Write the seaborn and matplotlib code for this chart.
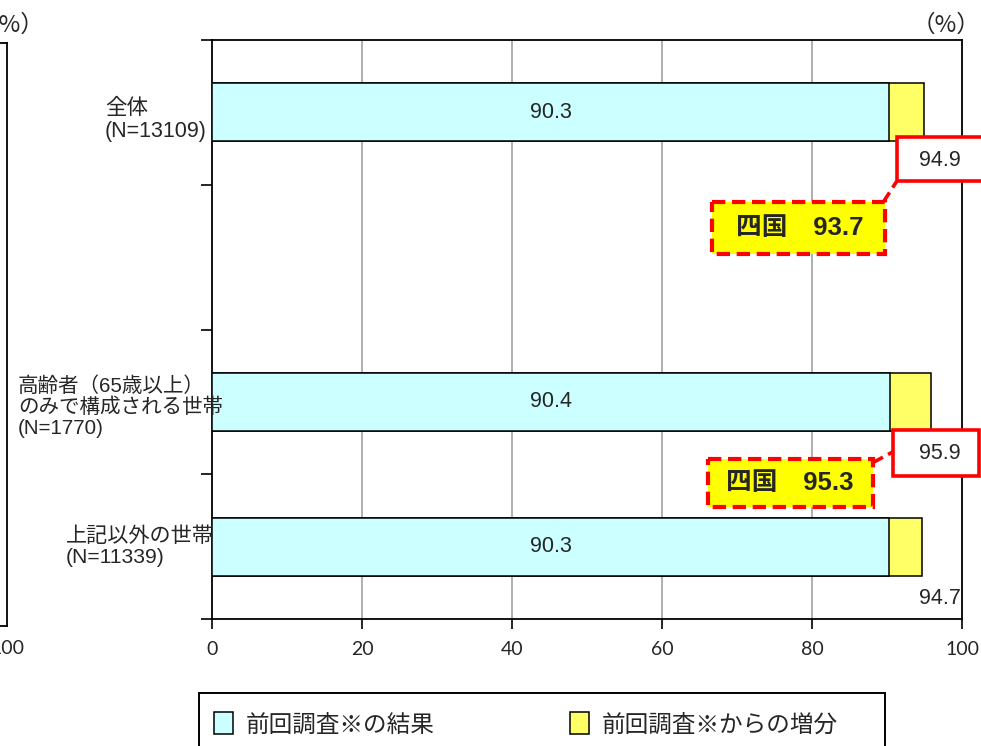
import matplotlib
matplotlib.use("Agg")
import matplotlib.pyplot as plt
import pandas as pd
import seaborn as sns
from matplotlib.patches import Rectangle, Patch

# ---- data -------------------------------------------------------------
groups = [
    "全体\n(N=13109)",
    "高齢者（65歳以上）\nのみで構成される世帯\n(N=1770)",
    "上記以外の世帯\n(N=11339)",
]
previous = [90.3, 90.4, 90.3]          # 前回調査の結果
current = [94.9, 95.9, 94.7]           # 今回の結果（前回＋増分）
region_name = "四国"
region_values = [93.7, 95.3]           # 四国の値（全体・高齢者世帯）
x_ticks = [0, 20, 40, 60, 80, 100]
legend_labels = ["前回調査※の結果", "前回調査※からの増分"]
unit_label = "（%）"

CYAN = "#CCFFFF"
YELLOW = "#FFFF66"
CALLOUT_FILL = "#FFFF00"
RED = "#FF0000"

sns.set_style("ticks")
plt.rcParams["font.family"] = ["Liberation Sans", "Noto Sans CJK JP", "DejaVu Sans"]

W, H = 981, 746
fig = plt.figure(figsize=(W / 100, H / 100), dpi=100)

def fx(px):
    return px / W

def fy(py):
    return 1 - py / H

# ---- neighbouring panel (only its right edge falls inside the figure) --
ax0 = fig.add_axes([fx(-600), fy(626), fx(607), fy(43) - fy(626)])
ax0.set_xlim(0, 100)
ax0.set_ylim(0, 1)
ax0.set_yticks([])
ax0.set_xticks([100])
ax0.set_xticklabels(["100"], family=["Lato", "DejaVu Sans"], fontsize=14)
ax0.tick_params(axis="x", length=0, pad=10)
for s in ax0.spines.values():
    s.set_linewidth(1.3)
    s.set_color("black")
fig.text(fx(44), fy(25), unit_label, ha="right", va="center", fontsize=17,
         family=["Noto Sans CJK JP", "DejaVu Sans"])

# ---- main panel -------------------------------------------------------
ax = fig.add_axes([fx(212), fy(619), fx(962) - fx(212), fy(40) - fy(619)])

df = pd.DataFrame({"group": groups, "previous": previous, "current": current})
order = [groups[0], " ", groups[1], groups[2]]

sns.barplot(data=df, x="current", y="group", order=order, orient="h",
            color=YELLOW, saturation=1, edgecolor="black", linewidth=1.1,
            width=0.4, errorbar=None, ax=ax, zorder=3)
sns.barplot(data=df, x="previous", y="group", order=order, orient="h",
            color=CYAN, saturation=1, edgecolor="black", linewidth=1.1,
            width=0.4, errorbar=None, ax=ax, zorder=3)

ax.set_xlim(0, 100)
ax.set_ylim(3.5, -0.5)
ax.set_xticks(x_ticks)
ax.set_xticklabels([str(v) for v in x_ticks], family=["Lato", "DejaVu Sans"],
                   fontsize=14)
ax.set_yticks([-0.5, 0.5, 1.5, 2.5, 3.5])
ax.set_yticklabels([])
ax.set_xlabel("")
ax.set_ylabel("")
ax.tick_params(axis="x", direction="out", length=7, width=1.2, pad=9,
               color="black")
ax.tick_params(axis="y", direction="out", length=8, width=1.2, color="black")
for s in ax.spines.values():
    s.set_visible(True)
    s.set_linewidth(1.3)
    s.set_color("black")
ax.set_axisbelow(True)
for v in x_ticks[1:-1]:
    ax.axvline(v, color="#9A9A9A", lw=1.1, zorder=1)

# value of previous survey inside the cyan segment
ax.bar_label(ax.containers[-1], labels=[f"{v:.1f}" for v in previous],
             label_type="center", fontsize=15.5, zorder=5)

# category labels, left-aligned blocks beside the axis
rows = [0, 2, 3]
label_x = [-0.1427, -0.2587, -0.1947]
label_dy = [0.055, 0.035, 0.0]
label_size = [15.5, 14.8, 15.2]
ytr = ax.get_yaxis_transform()
for g, r, lx, dy, fs in zip(groups, rows, label_x, label_dy, label_size):
    ax.text(lx, r + dy, g, transform=ytr, ha="left", va="center",
            multialignment="left", fontsize=fs, linespacing=1.12,
            clip_on=False)

# totals below each bar
total_y = [0.33, 2.355, 3.36]
for r, v, ty in zip(rows, current, total_y):
    ax.text(99.8, ty, f"{v:.1f}", ha="right", va="center", fontsize=15.5,
            zorder=6, clip_on=False)

# red frames around the first two totals
frames = [((91.3, 0.172), 12.0, 0.304), ((90.8, 2.193), 11.5, 0.317)]
for (x0, y0), w, h in frames:
    ax.add_patch(Rectangle((x0, y0), w, h, facecolor="white", edgecolor=RED,
                           lw=2.6, zorder=5, clip_on=False))

# callouts with the regional value
callouts = [
    dict(box=(66.7, 0.62, 23.0, 0.36), text=(78.4, 0.80),
         line=((89.5, 0.62), (91.3, 0.476)), value=region_values[0]),
    dict(box=(66.1, 2.393, 22.0, 0.331), text=(77.1, 2.559),
         line=((88.1, 2.42), (90.8, 2.345)), value=region_values[1]),
]
for c in callouts:
    bx, by, bw, bh = c["box"]
    ax.add_patch(Rectangle((bx, by), bw, bh, facecolor=CALLOUT_FILL,
                           edgecolor=RED, lw=3.0, linestyle=(0, (3.2, 1.6)),
                           zorder=6, clip_on=False))
    (x1, y1), (x2, y2) = c["line"]
    ax.plot([x1, x2], [y1, y2], color=RED, lw=2.6, linestyle=(0, (3.2, 1.6)),
            zorder=6, clip_on=False)
    tx, ty = c["text"]
    ax.text(tx, ty, f"{region_name}\u3000{c['value']:.1f}", ha="center",
            va="center", fontsize=18.5, fontweight="bold", zorder=7,
            clip_on=False)

fig.text(fx(980), fy(25), unit_label, ha="right", va="center", fontsize=17,
         family=["Noto Sans CJK JP", "DejaVu Sans"])

# ---- legend -----------------------------------------------------------
handles = [Patch(facecolor=CYAN, edgecolor="black", lw=1.1),
           Patch(facecolor=YELLOW, edgecolor="black", lw=1.1)]
fig.legend(handles, legend_labels, loc="upper left",
           bbox_to_anchor=(fx(212), fy(710)), ncol=2, frameon=False,
           fontsize=17, handlelength=0.78, handleheight=1.05,
           handletextpad=0.55, columnspacing=5.75, borderpad=0.1,
           borderaxespad=0)
fig.patches.append(Rectangle((fx(199), fy(760)), fx(885) - fx(199),
                             fy(693) - fy(760), transform=fig.transFigure,
                             facecolor="none", edgecolor="black", lw=1.4))

fig.savefig("out.png", dpi=100)
